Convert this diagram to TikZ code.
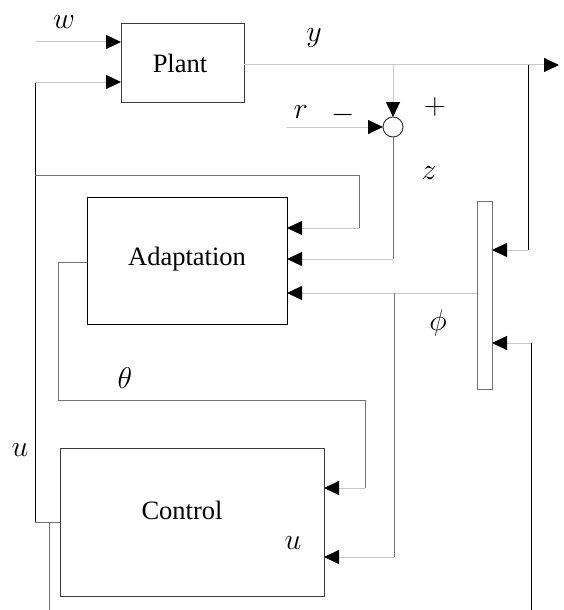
\RequirePackage{fix-cm}
\documentclass[tikz,border=0pt]{standalone}
\usepackage{fontspec}
\setmainfont{Liberation Serif}
\usetikzlibrary{arrows.meta}
\definecolor{lgc}{RGB}{200,200,200}
\definecolor{dgc}{RGB}{115,115,115}
\definecolor{bxc}{RGB}{60,60,60}
\begin{document}
\begin{tikzpicture}[x=1pt,y=-1pt,
  box/.style={draw=bxc,line width=1pt,inner sep=0pt,outer sep=0pt},
  arr/.style={draw=lgc,line width=1pt,-{Triangle[length=15pt,width=14pt,color=black]}},
  blk/.style={draw=black,line width=1pt},
  dg/.style={draw=dgc,line width=1pt},
  txt/.style={font=\fontsize{26.5}{31}\selectfont,inner sep=0pt},
  lab/.style={font=\fontsize{30}{36}\selectfont,inner sep=0pt}]
\useasboundingbox (0,0) rectangle (563,610);
% blocks
\node[box,minimum width=123pt,minimum height=78pt] (plant) at (182.5,63) {};
\node[txt] (plantt) at (180,63) {Plant};
\node[box,draw=black,minimum width=200pt,minimum height=127pt] (adapt) at (187,260.5) {};
\node[txt] (adaptt) at (187,259) {Adaptation};
\node[box,minimum width=264pt,minimum height=148pt] (control) at (192,522) {};
\node[txt] (controlt) at (182,510) {Control};
\node[box,draw=dgc,minimum width=15pt,minimum height=188pt] (bar) at (484.5,295) {};
\node[circle,draw=bxc,line width=1pt,minimum size=20pt,inner sep=0pt,outer sep=0pt,fill=white] (sum) at (393,127) {};
% labels
\node[lab] (lw) at (64,22) {$w$};
\node[lab] (ly) at (314,38) {$y$};
\node[lab] (lr) at (301,112) {$r$};
\node[lab] (lm) at (343,115) {$-$};
\node[lab] (lp) at (435,107) {$+$};
\node[lab] (lz) at (429,173) {$z$};
\node[lab] (lphi) at (438,323) {$\phi$};
\node[lab] (lth) at (125,378) {$\theta$};
\node[lab] (lu) at (20,450) {$u$};
\node[lab] (lu2) at (293,543) {$u$};
% coordinates
\coordinate (win) at (36,42);
\coordinate (utop) at (35,82);
\coordinate (ubot) at (35,522);
\coordinate (uend) at (49,610);
\coordinate (yend) at (559,65);
\coordinate (ytap) at (393,65);
\coordinate (rin) at (287,127);
\coordinate (zc) at (393,259);
\coordinate (ph1t) at (528,65);
\coordinate (ph1) at (528,250);
\coordinate (ph2b) at (531,610);
\coordinate (ph2) at (531,343);
\coordinate (phj) at (394,293);
\coordinate (ctl2) at (394,557);
\coordinate (la) at (35,175);
\coordinate (lb) at (359,175);
\coordinate (lc) at (359,228);
\coordinate (ta) at (58,262);
\coordinate (tb) at (58,400);
\coordinate (tc) at (365,400);
\coordinate (td) at (365,488);
% connectors
\draw[arr] (win) -- (win -| plant.west);
\draw[blk] (ubot) -- (utop);
\draw[arr] (utop) -- (utop -| plant.west);
\draw[dg] (ubot) -- (ubot -| control.west);
\draw[dg] (uend) -- (uend |- ubot);
\draw[arr] (yend -| plant.east) -- (yend);
\draw[arr] (ytap) -- (sum.north);
\draw[arr] (rin) -- (sum.west);
\draw[dg] (sum.south) -- (zc);
\draw[arr] (zc) -- (zc -| adapt.east);
\draw[blk] (ph1t) -- (ph1);
\draw[arr] (ph1) -- (ph1 -| bar.east);
\draw[blk] (ph2b) -- (ph2);
\draw[arr] (ph2) -- (ph2 -| bar.east);
\draw[arr] (phj -| bar.west) -- (phj -| adapt.east);
\draw[dg] (phj) -- (ctl2);
\draw[arr] (ctl2) -- (ctl2 -| control.east);
\draw[dg] (la) -- (lb) -- (lc);
\draw[arr] (lc) -- (lc -| adapt.east);
\draw[dg] (ta -| adapt.west) -- (ta) -- (tb) -- (tc) -- (td);
\draw[arr] (td) -- (td -| control.east);
\end{tikzpicture}
\end{document}
